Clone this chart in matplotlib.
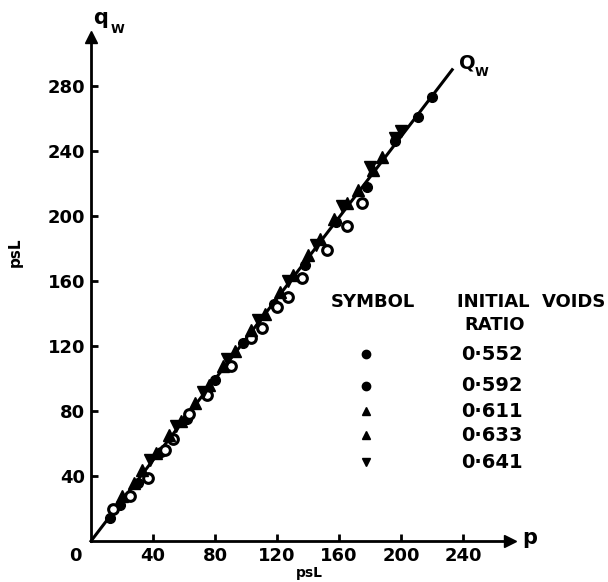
import matplotlib.pyplot as plt

plt.rcParams["font.family"] = "DejaVu Sans"
plt.rcParams["font.weight"] = "bold"

# data (p in psi, q_w in psi)
line_x = [0, 233]
line_y = [0, 290]

x_552 = [12, 19, 30, 45, 62, 80, 98, 118, 138, 158, 178, 196, 211, 220]
y_552 = [14, 22, 36, 55, 75, 99, 122, 146, 170, 196, 218, 246, 261, 273]

x_592 = [14, 25, 37, 48, 53, 63, 75, 90, 103, 110, 120, 127, 136, 152, 165, 175]
y_592 = [20, 28, 39, 56, 63, 78, 90, 108, 125, 131, 144, 150, 162, 179, 194, 208]

x_611 = [20, 33, 50, 67, 85, 103, 122, 140, 157, 172, 188]
y_611 = [28, 44, 65, 85, 108, 130, 153, 176, 198, 216, 236]

x_633 = [28, 42, 58, 76, 93, 112, 130, 148, 165, 182]
y_633 = [36, 54, 74, 96, 117, 140, 164, 186, 208, 228]

x_641 = [38, 55, 72, 88, 108, 127, 145, 162, 180, 196, 200]
y_641 = [50, 71, 92, 112, 136, 160, 182, 206, 230, 248, 252]

xticks = [40, 80, 120, 160, 200, 240]
yticks = [40, 80, 120, 160, 200, 240, 280]
ratios = ["0·552", "0·592", "0·611", "0·633", "0·641"]

fig = plt.figure(figsize=(6.08, 5.82), dpi=100)
ax = fig.add_axes([0, 0, 1, 1])
ax.set_xlim(-58.7, 333.5)
ax.set_ylim(-25.2, 332.9)

# axes through the origin
for s in ["top", "right"]:
    ax.spines[s].set_visible(False)
ax.spines["left"].set_position(("data", 0))
ax.spines["bottom"].set_position(("data", 0))
ax.spines["left"].set_bounds(0, 306)
ax.spines["bottom"].set_bounds(0, 266)
ax.spines["left"].set_linewidth(2)
ax.spines["bottom"].set_linewidth(2)
ax.plot([0], [310], marker="^", ms=9, color="black", clip_on=False)
ax.plot([270], [0], marker=">", ms=9, color="black", clip_on=False)

ax.set_xticks(xticks)
ax.set_yticks(yticks)
ax.tick_params(direction="in", length=5, width=2, labelsize=13, pad=4)
ax.tick_params(axis="x", pad=4)

ax.text(-10, -9, "0", fontsize=13, ha="center", va="center")
ax.text(141, -19.5, "psL", fontsize=10, ha="center", va="center")
ax.text(-49, 178, "psL", fontsize=11, ha="center", va="center", rotation=90)
ax.text(6, 322, "q", fontsize=15, ha="center", va="center")
ax.text(17, 315, "W", fontsize=9, ha="center", va="center")
ax.text(243, 294, "Q", fontsize=14, ha="center", va="center")
ax.text(252, 288, "W", fontsize=9, ha="center", va="center")
ax.text(283, 2, "p", fontsize=15, ha="center", va="center")

# fitted line
ax.plot(line_x, line_y, color="black", lw=2.2)

ms = 7
ax.plot(x_552, y_552, "o", ms=ms, color="black")
ax.plot(x_592, y_592, "o", ms=ms, mfc="white", mec="black", mew=2.2)
ax.plot(x_611, y_611, "^", ms=ms + 1, color="black")
ax.plot(x_633, y_633, "^", ms=ms + 1, color="black")
ax.plot(x_641, y_641, "v", ms=ms + 1, color="black")

# legend, hand-drawn as in the original
ax.text(182, 147, "SYMBOL", fontsize=13, ha="center", va="center")
ax.text(236, 147, "INITIAL  VOIDS", fontsize=13, ha="left", va="center")
ax.text(241, 133, "RATIO", fontsize=13, ha="left", va="center")
leg_y = [115, 95.4, 80, 65.2, 48.6]
leg_m = ["o", "o", "^", "^", "v"]
for yy, mk, lab in zip(leg_y, leg_m, ratios):
    ax.plot([177.4], [yy], marker=mk, ms=6, color="black")
    ax.text(238.7, yy, lab, fontsize=14, ha="left", va="center")

fig.savefig("out.png", dpi=100)
